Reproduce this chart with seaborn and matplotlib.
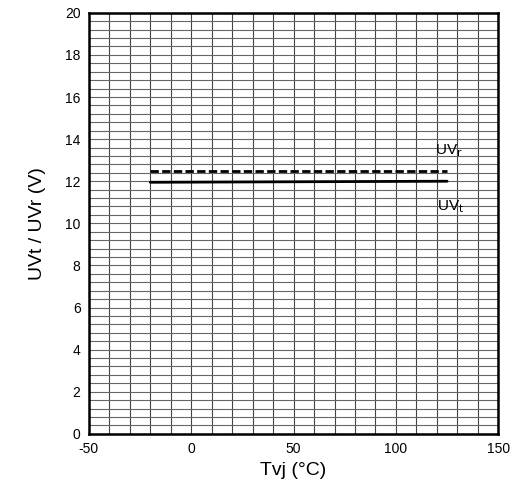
import numpy as np
import pandas as pd
import seaborn as sns
import matplotlib.pyplot as plt
from matplotlib.ticker import MultipleLocator

# Data
tvj = [-20, 125]
uvt = [11.95, 12.0]
uvr = [12.5, 12.5]

df = pd.DataFrame({
    "Tvj": tvj + tvj,
    "value": uvt + uvr,
    "series": ["UVt"] * len(tvj) + ["UVr"] * len(tvj),
})

sns.set_theme(style="white")
plt.rcParams['font.family'] = ['Liberation Sans', 'DejaVu Sans']
plt.rcParams['axes.unicode_minus'] = False

fig = plt.figure(figsize=(5.11, 4.93), dpi=100)
ax = fig.add_axes([0.174, 0.12, 0.801, 0.854])

sns.lineplot(data=df, x="Tvj", y="value", style="series", color="black",
             dashes={"UVt": "", "UVr": (3, 1.2)}, linewidth=2, legend=False, ax=ax)

ax.set_xlim(-50, 150)
ax.set_ylim(0, 20)
ax.xaxis.set_major_locator(MultipleLocator(50))
ax.xaxis.set_minor_locator(MultipleLocator(10))
ax.yaxis.set_major_locator(MultipleLocator(2))
ax.yaxis.set_minor_locator(MultipleLocator(0.4))
ax.grid(True, which="both", axis="x", color="#444444", linewidth=0.8)
ax.grid(True, which="both", axis="y", color="#666666", linewidth=0.8)
ax.set_axisbelow(True)
ax.tick_params(axis="both", which="both", length=0, labelsize=10, colors="black", pad=6)

for s in ax.spines.values():
    s.set_color("black")
    s.set_linewidth(1.8)

ax.set_xlabel("Tvj (°C)", fontsize=14, color="black")
ax.set_ylabel("UVt / UVr (V)", fontsize=14, color="black", labelpad=14)

ax.text(119, 13.3, "UV$_\\mathrm{r}$", fontsize=11, color="black")
ax.text(120, 10.6, "UV$_\\mathrm{t}$", fontsize=11, color="black")

fig.savefig("out.png", dpi=100)
